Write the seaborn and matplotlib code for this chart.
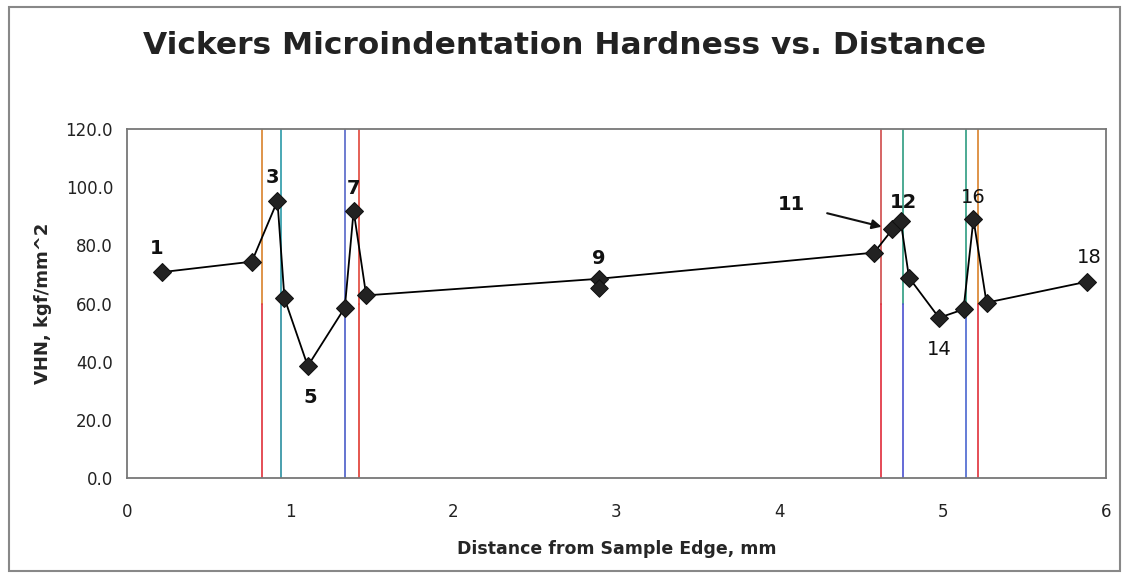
import seaborn as sns
import pandas as pd
import matplotlib.pyplot as plt
from matplotlib.patches import Rectangle

# measured indents (distance mm, hardness VHN)
dist = [0.215, 0.765, 0.922, 0.965, 1.108, 1.335, 1.389, 1.466, 2.89,
        4.579, 4.691, 4.742, 4.793, 4.977, 5.127, 5.188, 5.268, 5.883]
vhn = [70.8, 74.4, 95.3, 61.8, 38.5, 58.6, 91.9, 62.8, 68.5,
       77.5, 85.5, 88.4, 68.9, 55.1, 58.0, 89.0, 60.3, 67.5]
# second reading at the same spot as indent 9
extra_dist = [2.89]
extra_vhn = [65.3]

# zone boundaries (vertical lines) and their colours (top half, bottom half)
bound_x = [0.828, 0.945, 1.337, 1.423, 4.62, 4.758, 5.14, 5.215]
bound_top = ['#d9822b', '#2a9aa8', '#5566c8', '#e0453a', '#d04a4a', '#2e9c80', '#2e9c80', '#d9822b']
bound_bot = ['#e0303a', '#2a8fa0', '#4a5cc8', '#e03a30', '#e02a3a', '#4a50d0', '#4a66d0', '#e0303a']

point_labels = ['1', '3', '5', '7', '9', '12', '14', '16', '18']
label_idx = [0, 2, 4, 6, 8, 11, 13, 15, 17]
label_off = [(-5, 24), (-5, 23), (2, -31), (0, 22), (0, 20), (3, 18), (0, -32), (0, 22), (2, 24)]
label_bold = [True, True, True, True, True, True, False, False, False]

df = pd.DataFrame({'Distance': dist, 'VHN': vhn})

sns.set_style("white")
fig = plt.figure(figsize=(11.22, 5.74), dpi=100)
ax = fig.add_axes([0.1132, 0.1672, 0.8725, 0.608])

for x, ct, cb in zip(bound_x, bound_top, bound_bot):
    ax.axvline(x, ymin=0.5, ymax=1, color=ct, lw=1.2, zorder=1)
    ax.axvline(x, ymin=0, ymax=0.5, color=cb, lw=1.2, zorder=1)

sns.lineplot(data=df, x='Distance', y='VHN', sort=False, color='black', lw=1.3,
             marker='D', markersize=9, markerfacecolor='#222222',
             markeredgecolor='#111111', ax=ax, zorder=3)
sns.scatterplot(x=extra_dist, y=extra_vhn, marker='D', s=80, color='#222222',
                edgecolor='#111111', ax=ax, zorder=3)

for lab, i, off, b in zip(point_labels, label_idx, label_off, label_bold):
    ax.annotate(lab, (dist[i], vhn[i]), xytext=off, textcoords='offset pixels',
                ha='center', va='center', fontsize=14,
                fontweight='bold' if b else 'normal', color='#111111')
ax.annotate('11', (dist[10], vhn[10]), xytext=(-101, 25), textcoords='offset pixels',
            ha='center', va='center', fontsize=14, fontweight='bold', color='#111111',
            arrowprops=dict(arrowstyle='-|>', color='#111111', lw=1.5,
                            shrinkA=14, shrinkB=8, mutation_scale=14))

ax.set_xlim(0, 6)
ax.set_ylim(0, 120)
ax.set_xticks(range(0, 7))
ax.set_yticks(range(0, 121, 20))
ax.set_yticklabels([f'{v:.1f}' for v in range(0, 121, 20)])
ax.tick_params(axis='both', direction='in', length=4, labelsize=12, colors='#222222',
               width=1)
ax.tick_params(axis='x', pad=18)
ax.tick_params(axis='y', pad=10)
for s in ax.spines.values():
    s.set_color('#777777')
    s.set_linewidth(1.3)

ax.set_xlabel('Distance from Sample Edge, mm', fontsize=12.5, fontweight='bold', labelpad=14)
ax.set_ylabel('VHN, kgf/mm^2', fontsize=13, fontweight='bold', labelpad=10)
fig.text(0.5036, 0.921, 'Vickers Microindentation Hardness vs. Distance',
         ha='center', va='center', fontsize=22.5, fontweight='bold', color='#222222')

fig.patches.append(Rectangle((9 / 1122, 3 / 574), 1111 / 1122, 564 / 574,
                             transform=fig.transFigure, fill=False,
                             edgecolor='#888888', lw=1.5))

plt.savefig('out.png', dpi=100)
